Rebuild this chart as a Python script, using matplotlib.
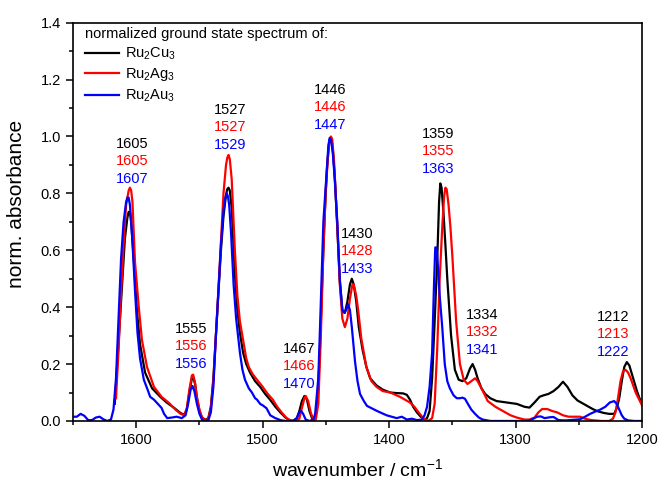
import matplotlib
matplotlib.use("Agg")
import matplotlib.pyplot as plt
from matplotlib.ticker import MultipleLocator

plt.rcParams['font.family'] = ['Liberation Sans', 'DejaVu Sans']
plt.rcParams['mathtext.default'] = 'regular'

# ---------------- data ----------------
cu_x = [1617, 1615, 1612, 1609, 1607, 1606, 1605, 1604, 1602, 1599.5, 1597, 1593, 1587.5, 1581, 1576, 1570,
        1565, 1562, 1560, 1558, 1556, 1555, 1553.5, 1552, 1550, 1548, 1545, 1543, 1541, 1539, 1537, 1535,
        1533, 1531, 1529, 1528, 1527, 1526, 1524.5, 1522, 1520, 1518, 1515.5, 1513, 1510, 1506, 1502, 1498, 1494,
        1490, 1486, 1482, 1479, 1476, 1473, 1471, 1469, 1467, 1465, 1463, 1461, 1459, 1457, 1455, 1453,
        1451, 1449, 1447.5, 1446.5, 1445.5, 1444.5, 1443, 1441, 1439, 1437, 1435, 1433, 1431, 1429.5, 1428, 1426, 1424,
        1421, 1418, 1415, 1410, 1405, 1399, 1394, 1389, 1386, 1383.5, 1381, 1378, 1375, 1372, 1370, 1368,
        1366, 1364, 1362, 1360.5, 1359.5, 1358.5, 1357, 1355.5, 1354, 1351, 1348, 1345, 1342, 1339, 1336, 1334, 1332,
        1330, 1327, 1324, 1320, 1315, 1307, 1299, 1293, 1289, 1285, 1281, 1278, 1274, 1270, 1266, 1262.5,
        1259, 1255, 1251, 1247, 1243, 1239, 1235, 1230, 1226, 1222, 1220, 1218, 1216, 1214, 1212, 1210,
        1208, 1206, 1204, 1202, 1200]
cu_y = [0.06, 0.2, 0.42, 0.64, 0.715, 0.735, 0.735, 0.70, 0.57, 0.39, 0.27, 0.17, 0.115, 0.085, 0.065, 0.046,
        0.028, 0.022, 0.04, 0.10, 0.15, 0.155, 0.13, 0.08, 0.035, 0.012, 0.004, 0.01, 0.05, 0.15, 0.3, 0.45,
        0.6, 0.72, 0.795, 0.815, 0.82, 0.81, 0.75, 0.52, 0.39, 0.31, 0.24, 0.2, 0.17, 0.14, 0.12, 0.095, 0.074,
        0.05, 0.03, 0.012, 0.003, 0.0, 0.01, 0.035, 0.07, 0.088, 0.075, 0.035, 0.01, 0.003, 0.05, 0.22, 0.48,
        0.72, 0.9, 0.975, 0.995, 0.99, 0.95, 0.86, 0.68, 0.49, 0.39, 0.38, 0.42, 0.48, 0.50, 0.48, 0.42, 0.33,
        0.25, 0.19, 0.15, 0.125, 0.11, 0.1, 0.098, 0.097, 0.092, 0.075, 0.05, 0.03, 0.015, 0.005, 0.01, 0.035,
        0.15, 0.35, 0.56, 0.77, 0.835, 0.82, 0.73, 0.62, 0.5, 0.3, 0.18, 0.145, 0.14, 0.15, 0.185, 0.20, 0.18,
        0.15, 0.115, 0.095, 0.08, 0.07, 0.065, 0.06, 0.05, 0.047, 0.065, 0.085, 0.09, 0.095, 0.105, 0.12, 0.138,
        0.12, 0.09, 0.072, 0.062, 0.052, 0.042, 0.034, 0.028, 0.025, 0.025, 0.045, 0.08, 0.14, 0.19, 0.207, 0.195,
        0.165, 0.135, 0.105, 0.08, 0.063]

ag_x = [1616, 1614, 1612, 1610, 1608, 1606, 1605, 1604, 1603, 1601, 1598, 1595.5, 1591.5, 1586, 1580, 1574,
        1569, 1565, 1562, 1560, 1558, 1556, 1555, 1553.5, 1552, 1550, 1548, 1545, 1543, 1541, 1539, 1537,
        1535, 1533, 1531, 1529, 1528, 1527, 1526, 1524.5, 1522, 1520, 1518, 1515.5, 1513, 1511, 1508, 1504.5, 1500,
        1496.5, 1492, 1488.5, 1485, 1481, 1478, 1474, 1471, 1469, 1467, 1466, 1464, 1462, 1460, 1458, 1456,
        1454, 1452, 1450, 1448, 1447, 1446, 1445, 1443.5, 1441, 1439, 1437, 1435, 1433, 1431, 1429, 1428, 1426,
        1424.5, 1422, 1418, 1414, 1410, 1405, 1399, 1391.5, 1383.5, 1380, 1377, 1373, 1369, 1366, 1364, 1362,
        1360, 1358, 1356.5, 1355.5, 1354.5, 1353, 1351.5, 1350, 1347, 1344, 1341, 1338, 1335, 1332, 1330, 1327, 1322,
        1316, 1310, 1304, 1299, 1293, 1289, 1285, 1282, 1279, 1275, 1271, 1267, 1262.5, 1258, 1253, 1249,
        1245, 1240, 1232, 1226, 1223, 1221, 1219, 1217, 1215, 1213, 1211, 1209, 1207, 1205, 1203, 1200]
ag_y = [0.08, 0.25, 0.45, 0.62, 0.76, 0.81, 0.82, 0.81, 0.77, 0.56, 0.40, 0.285, 0.19, 0.12, 0.085, 0.063,
        0.04, 0.025, 0.02, 0.045, 0.11, 0.16, 0.163, 0.135, 0.085, 0.04, 0.012, 0.002, 0.008, 0.045, 0.14, 0.3,
        0.46, 0.63, 0.8, 0.9, 0.925, 0.935, 0.92, 0.85, 0.6, 0.44, 0.35, 0.285, 0.22, 0.19, 0.165, 0.145, 0.12,
        0.098, 0.075, 0.05, 0.03, 0.01, 0.002, 0.0, 0.008, 0.045, 0.08, 0.088, 0.07, 0.03, 0.005, 0.005, 0.06,
        0.3, 0.6, 0.82, 0.95, 0.99, 1.0, 0.99, 0.91, 0.69, 0.48, 0.36, 0.33, 0.36, 0.43, 0.48, 0.48, 0.44,
        0.39, 0.29, 0.19, 0.14, 0.12, 0.105, 0.1, 0.085, 0.065, 0.05, 0.032, 0.01, 0.0, 0.01, 0.06, 0.25,
        0.5, 0.68, 0.79, 0.82, 0.815, 0.76, 0.68, 0.58, 0.35, 0.2, 0.145, 0.13, 0.14, 0.15, 0.14, 0.115, 0.07,
        0.05, 0.035, 0.02, 0.012, 0.005, 0.005, 0.012, 0.03, 0.042, 0.042, 0.035, 0.03, 0.02, 0.015, 0.015, 0.015,
        0.008, 0.003, 0.0, 0.0, 0.008, 0.03, 0.08, 0.14, 0.175, 0.18, 0.17, 0.15, 0.125, 0.1, 0.082, 0.055]

au_x = [1650, 1647, 1644, 1641, 1638, 1635, 1632, 1629, 1626, 1623, 1620, 1618, 1616, 1614, 1612, 1610,
        1608, 1607, 1606, 1605, 1603, 1601, 1599, 1597, 1594, 1591, 1589, 1586, 1583.5, 1580, 1578, 1575.5, 1572,
        1568, 1564, 1561, 1559, 1557, 1555.5, 1554, 1552, 1550, 1548, 1546, 1543, 1541, 1539, 1537, 1535,
        1533, 1531, 1529.5, 1528.5, 1527.5, 1526.5, 1525, 1523, 1521, 1518, 1516, 1514, 1511, 1508.5, 1506, 1504.5, 1502,
        1500, 1497, 1494, 1490, 1486, 1482, 1476, 1473, 1471, 1469.5, 1468, 1466, 1463, 1460, 1458.5, 1456,
        1454.5, 1452, 1449, 1448, 1447, 1446, 1444.5, 1443, 1441, 1439, 1437, 1435.5, 1434, 1432.5, 1431, 1429.5, 1427, 1425,
        1423, 1420, 1417.5, 1414, 1409.5, 1402, 1394, 1390, 1386, 1382, 1378, 1374, 1372, 1370, 1368, 1366,
        1364.5, 1363.5, 1362.5, 1361.5, 1360, 1358, 1356, 1354, 1352, 1349, 1346.5, 1344, 1342, 1340, 1337.7, 1335, 1332,
        1329, 1326, 1320, 1310, 1300, 1290, 1286, 1283, 1280, 1277, 1273, 1270, 1266, 1260, 1255, 1249,
        1245, 1241, 1237, 1233, 1229, 1225.5, 1222, 1220, 1218, 1216, 1214, 1211, 1206, 1200]
au_y = [0.015, 0.015, 0.025, 0.018, 0.003, 0.003, 0.012, 0.015, 0.006, 0.0, 0.005, 0.04, 0.15, 0.36, 0.57, 0.70,
        0.77, 0.785, 0.785, 0.76, 0.63, 0.46, 0.31, 0.22, 0.145, 0.11, 0.085, 0.075, 0.063, 0.046, 0.025, 0.01, 0.012,
        0.015, 0.01, 0.02, 0.06, 0.11, 0.123, 0.105, 0.06, 0.025, 0.005, 0.0, 0.002, 0.03, 0.12, 0.3, 0.46,
        0.62, 0.74, 0.785, 0.8, 0.79, 0.76, 0.66, 0.48, 0.36, 0.24, 0.18, 0.145, 0.115, 0.1, 0.08, 0.075, 0.06,
        0.055, 0.045, 0.02, 0.01, 0.003, 0.0, 0.0, 0.01, 0.03, 0.035, 0.025, 0.005, 0.0, 0.005, 0.025, 0.15,
        0.35, 0.7, 0.9, 0.97, 0.995, 0.99, 0.94, 0.85, 0.70, 0.5, 0.39, 0.38, 0.39, 0.41, 0.39, 0.33, 0.21, 0.14,
        0.095, 0.07, 0.053, 0.045, 0.035, 0.02, 0.01, 0.015, 0.005, 0.008, 0.003, 0.005, 0.02, 0.05, 0.12, 0.24,
        0.48, 0.61, 0.61, 0.55, 0.44, 0.33, 0.2, 0.14, 0.115, 0.09, 0.08, 0.08, 0.082, 0.078, 0.06, 0.04, 0.025,
        0.012, 0.005, 0.0, 0.0, 0.0, 0.0, 0.008, 0.015, 0.016, 0.01, 0.013, 0.014, 0.003, 0.002, 0.004, 0.006,
        0.015, 0.025, 0.033, 0.04, 0.05, 0.065, 0.07, 0.06, 0.04, 0.02, 0.008, 0.002, 0.0, 0.0]

series_labels = ["Ru$_2$Cu$_3$", "Ru$_2$Ag$_3$", "Ru$_2$Au$_3$"]
series_colors = ["#000000", "#ff0000", "#0000ff"]

# peak annotations: (black, red, blue) label text per column
peak_labels = [("1605", "1605", "1607"), ("1555", "1556", "1556"), ("1527", "1527", "1529"),
               ("1446", "1446", "1447"), ("1467", "1466", "1470"), ("1430", "1428", "1433"),
               ("1359", "1355", "1363"), ("1334", "1332", "1341"), ("1212", "1213", "1222")]
label_x = [1603.4, 1556.7, 1525.9, 1446.8, 1471.3, 1425.5, 1361.5, 1326.7, 1223.1]
label_ytop = [0.974, 0.323, 1.093, 1.163, 0.253, 0.657, 1.009, 0.373, 0.366]

# ---------------- figure ----------------
fig = plt.figure(figsize=(6.62, 4.82), dpi=100)
ax = fig.add_axes([0.1103, 0.1266, 0.9698 - 0.1103, 0.9529 - 0.1266])

for xs, ys, lab, col in zip([cu_x, ag_x, au_x], [cu_y, ag_y, au_y], series_labels, series_colors):
    ax.plot(xs, ys, color=col, lw=1.6, label=lab, solid_joinstyle='round')

fs = 10.5
for labs, lx, ly in zip(peak_labels, label_x, label_ytop):
    for k, (t, c) in enumerate(zip(labs, series_colors)):
        ax.text(lx, ly - k * 0.061, t, color=c, fontsize=fs, ha='center', va='center')

ax.set_xlim(1650, 1200)
ax.set_ylim(0, 1.4)
ax.xaxis.set_major_locator(MultipleLocator(100))
ax.xaxis.set_minor_locator(MultipleLocator(50))
ax.yaxis.set_minor_locator(MultipleLocator(0.1))
ax.set_yticks([0.0, 0.2, 0.4, 0.6, 0.8, 1.0, 1.2, 1.4])
ax.set_yticklabels(["0.0", "0.2", "0.4", "0.6", "0.8", "1.0", "1.2", "1.4"])
ax.tick_params(which='both', direction='out', top=False, right=False, labelsize=fs, width=1.1)
ax.tick_params(which='major', length=5)
ax.tick_params(which='minor', length=3)
for s in ax.spines.values():
    s.set_linewidth(1.2)

ax.set_xlabel("wavenumber / cm$^{-1}$", fontsize=14, labelpad=8)
ax.set_ylabel("norm. absorbance", fontsize=15)
ax.yaxis.set_label_coords(-0.082, 0.545)

leg = ax.legend(loc='upper left', frameon=False, fontsize=fs,
                title="normalized ground state spectrum of:", title_fontsize=fs,
                alignment='left', handlelength=2.3, handletextpad=0.4, labelspacing=0.3,
                borderaxespad=0.1, borderpad=0.35)
leg.set_bbox_to_anchor((0.01, 1.005), transform=ax.transAxes)

fig.savefig("out.png", dpi=100)
